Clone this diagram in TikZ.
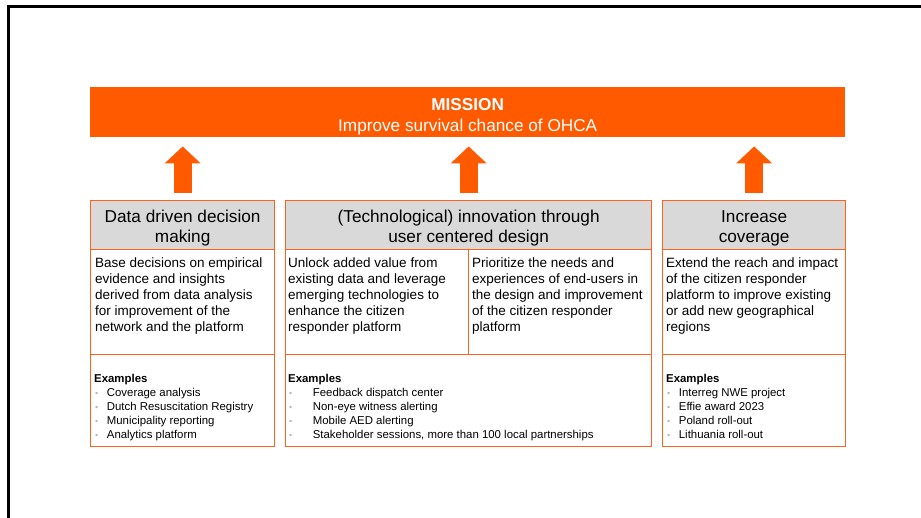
\documentclass[tikz,border=0pt]{standalone}
\usepackage{fontspec}
\setmainfont{Liberation Sans}
\usetikzlibrary{arrows.meta}

\definecolor{missionorange}{RGB}{255,90,0}
\definecolor{lineorange}{RGB}{250,100,30}
\definecolor{headgray}{RGB}{217,217,217}
\definecolor{bulgray}{RGB}{185,185,185}
\newcommand{\bul}[1][12.7pt]{\makebox[#1][l]{\hspace{1pt}\textcolor{bulgray}{\fontsize{9}{9}\selectfont\textbullet}}}

\tikzset{
  mission/.style={fill=missionorange, text=white, anchor=north west, minimum width=755pt, minimum height=50pt, inner sep=0pt, align=center, font=\fontsize{17.2}{21}\selectfont},
  cell/.style={draw=lineorange, line width=1.3pt, anchor=north west, inner sep=0pt},
  headcell/.style={cell, fill=headgray, minimum height=49pt, align=center, font=\fontsize{17.2}{20.5}\selectfont},
  bodycell/.style={cell, minimum height=105pt},
  excell/.style={cell, minimum height=92pt},
  bodytxt/.style={anchor=north west, inner sep=0pt, align=left, font=\fontsize{13.5}{16}\selectfont},
  extxt/.style={anchor=north west, inner sep=0pt, align=left, font=\fontsize{11.4}{14}\selectfont},
  blockarrow/.style={missionorange, line width=18pt, -{Triangle[length=17pt,width=35pt]}},
}

\begin{document}
\begin{tikzpicture}[x=1pt,y=-1pt]
\useasboundingbox (0,0) rectangle (921,518);
\draw[line width=3pt] (8.5,518) -- (8.5,6.5) -- (921,6.5); % slide frame

\node[mission] (mission) at (90,87) {\rule{0pt}{20.4pt}\textbf{MISSION}\\Improve survival chance of OHCA};

% headers
\node[headcell, minimum width=184pt] (headA) at (90,200) {\rule{0pt}{18.6pt}Data driven decision\\making};
\node[headcell, minimum width=366pt] (headB) at (285,200) {\rule{0pt}{18.6pt}(Technological) innovation through\\user centered design};
\node[headcell, minimum width=183pt] (headC) at (662,200) {\rule{0pt}{18.6pt}Increase\\coverage};

% body cells
\node[bodycell, minimum width=184pt] (bodyA) at (90,249) {};
\node[bodycell, minimum width=183pt] (bodyB1) at (285,249) {};
\node[bodycell, minimum width=183pt] (bodyB2) at (468,249) {};
\node[bodycell, minimum width=183pt] (bodyC) at (662,249) {};

% example cells
\node[excell, minimum width=184pt] (exA) at (90,354) {};
\node[excell, minimum width=366pt] (exB) at (285,354) {};
\node[excell, minimum width=183pt] (exC) at (662,354) {};

\node[bodytxt] (txtA) at (95,257.5) {Base decisions on empirical\\evidence and insights\\derived from data analysis\\for improvement of the\\network and the platform};
\node[bodytxt] (txtB1) at (288,257.5) {Unlock added value from\\existing data and leverage\\emerging technologies to\\enhance the citizen\\responder platform};
\node[bodytxt] (txtB2) at (472,257.5) {Prioritize the needs and\\experiences of end-users in\\the design and improvement\\of the citizen responder\\platform};
\node[bodytxt] (txtC) at (666,257.5) {Extend the reach and impact\\of the citizen responder\\platform to improve existing\\or add new geographical\\regions};

\node[extxt] (listA) at (94,374.5) {\textbf{Examples}\\\bul Coverage analysis\\\bul Dutch Resuscitation Registry\\\bul Municipality reporting\\\bul Analytics platform};
\node[extxt] (listB) at (288,374.5) {\textbf{Examples}\\\bul[21.5pt] Feedback dispatch center\\\bul[21.5pt] Non-eye witness alerting\\\bul[21.5pt] Mobile AED alerting\\\bul[21.5pt] Stakeholder sessions, more than 100 local partnerships};
\node[extxt] (listC) at (666,374.5) {\textbf{Examples}\\\bul Interreg NWE project\\\bul Effie award 2023\\\bul Poland roll-out\\\bul Lithuania roll-out};

% arrows up to the mission
\draw[blockarrow] ([yshift=7pt]headA.north) -- ([yshift=-9pt]headA.north |- mission.south);
\draw[blockarrow] ([yshift=7pt]headB.north) -- ([yshift=-9pt]headB.north |- mission.south);
\draw[blockarrow] ([yshift=7pt]headC.north) -- ([yshift=-9pt]headC.north |- mission.south);
\end{tikzpicture}
\end{document}
